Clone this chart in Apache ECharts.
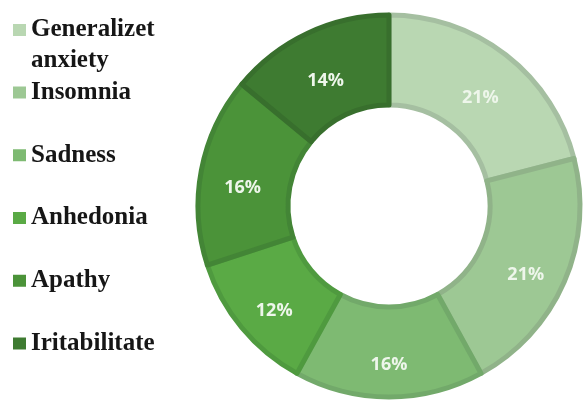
<!DOCTYPE html>
<html>
<head>
<meta charset="utf-8">
<script src="https://cdn.jsdelivr.net/npm/echarts@6/dist/echarts.min.js"></script>
<style>
  html, body { margin: 0; padding: 0; background: #ffffff; }
  #chart { width: 588px; height: 411px; }
</style>
</head>
<body>
<div id="chart"></div>
<script>
// Symptom categories and their shares (percent)
const categories = ['Generalizet anxiety', 'Insomnia', 'Sadness', 'Anhedonia', 'Apathy', 'Iritabilitate'];
const shares = [21, 21, 16, 12, 16, 14];

// Fill and edge colours, light to dark green
const fills = ['#b9d7b2', '#9dc894', '#7eba72', '#5aaa45', '#4b9339', '#3e7b31'];
const edges = ['#a5bfa1', '#90b389', '#72a96a', '#4f9a3f', '#438536', '#386f2d'];

const chart = echarts.init(document.getElementById('chart'), null, { renderer: 'canvas' });

const seriesData = categories.map((name, i) => ({
  name: name,
  value: shares[i],
  itemStyle: { color: fills[i], borderColor: edges[i] }
}));

const legendText = {
  fontFamily: '"Liberation Serif", "Times New Roman", serif',
  fontWeight: 'bold',
  fontSize: 25,
  lineHeight: 31,
  color: '#161616'
};

const legendBase = {
  orient: 'vertical',
  left: 13,
  padding: 0,
  itemWidth: 13,
  itemHeight: 12,
  icon: 'rect',
  selectedMode: false,
  textStyle: legendText
};

function legendItem(i) {
  return { name: categories[i], itemStyle: { color: fills[i], borderWidth: 0 } };
}

chart.setOption({
  animation: false,
  backgroundColor: '#ffffff',
  legend: [
    // wrapped first entry: a leading empty line keeps the swatch beside "Generalizet"
    Object.assign({}, legendBase, {
      top: -16.5,
      data: [legendItem(0)],
      formatter: function (name) {
        return '\n' + name.replace(' ', '\n');
      }
    }),
    Object.assign({}, legendBase, {
      top: 77,
      itemGap: 31.75,
      data: categories.slice(1).map((_, k) => legendItem(k + 1))
    })
  ],
  series: [{
    type: 'pie',
    center: [389, 206],
    radius: [101, 191],
    startAngle: 90,
    clockwise: true,
    avoidLabelOverlap: false,
    silent: true,
    itemStyle: { borderWidth: 5 },
    label: {
      show: true,
      position: 'inside',
      offset: [0, 10],
      formatter: '{c}%',
      fontFamily: '"Open Sans", sans-serif',
      fontWeight: 'bold',
      fontSize: 18,
      color: '#eef6eb'
    },
    labelLine: { show: false },
    data: seriesData
  }]
});
</script>
</body>
</html>
